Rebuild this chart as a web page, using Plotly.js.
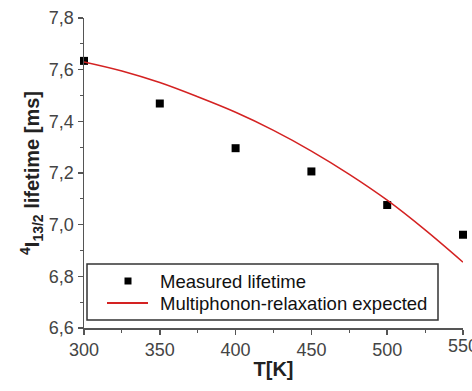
<!DOCTYPE html>
<html>
<head>
<meta charset="utf-8">
<script src="https://cdn.plot.ly/plotly-3.0.1.min.js"></script>
<style>html,body{margin:0;padding:0;background:#fff;}#chart{width:472px;height:391px;}</style>
</head>
<body>
<div id="chart"></div>
<script>
// Measured lifetime
var measuredT = [300, 350, 400, 450, 500, 550];
var measuredLifetime = [7.634, 7.469, 7.296, 7.206, 7.076, 6.961];
// Multiphonon-relaxation expected curve
var expectedT = [300, 325, 350, 375, 400, 425, 450, 475, 500, 525, 550];
var expectedLifetime = [7.63, 7.595, 7.55, 7.495, 7.435, 7.365, 7.285, 7.195, 7.095, 6.98, 6.855];
var xTicks = [300, 350, 400, 450, 500, 550];
var yTicks = [6.6, 6.8, 7.0, 7.2, 7.4, 7.6, 7.8];
var seriesNames = ['Measured lifetime', 'Multiphonon-relaxation expected'];

var font = "Liberation Sans, Arial, sans-serif";
var W = 472, H = 391;
var M = {l: 84, r: 9, t: 18, b: 63};
var pw = W - M.l - M.r, ph = H - M.t - M.b;
function px(x) { return (x - M.l) / pw; }
function py(y) { return (H - M.b - y) / ph; }

var markerColor = '#000', lineColor = '#d42222';

var traces = [
  {
    x: measuredT, y: measuredLifetime, mode: 'markers', type: 'scatter',
    name: seriesNames[0],
    marker: {symbol: 'square', size: 8, color: markerColor},
    cliponaxis: false
  },
  {
    x: expectedT, y: expectedLifetime, mode: 'lines', type: 'scatter',
    name: seriesNames[1],
    line: {color: lineColor, width: 1.5, shape: 'spline'}
  }
];

var axisCommon = {
  showline: true, linecolor: '#555', linewidth: 1.5,
  ticks: 'outside', ticklen: 5, tickwidth: 1.5, tickcolor: '#555',
  showgrid: false, zeroline: false, automargin: false,
  tickfont: {family: font, size: 18, color: '#444'}
};

// manual legend (box, symbols, texts)
var shapes = [
  {type: 'rect', xref: 'paper', yref: 'paper', x0: px(87), x1: px(438), y0: py(320), y1: py(264),
   line: {color: '#333', width: 1.5}, fillcolor: '#fff', layer: 'above'},
  {type: 'rect', xref: 'paper', yref: 'paper', x0: px(124.5), x1: px(131.5), y0: py(284.5), y1: py(277.5),
   line: {width: 0}, fillcolor: markerColor, layer: 'above'},
  {type: 'line', xref: 'paper', yref: 'paper', x0: px(107), x1: px(148), y0: py(303), y1: py(303),
   line: {color: lineColor, width: 2}, layer: 'above'}
];

var annotations = [
  {xref: 'paper', yref: 'paper', x: px(158), y: py(281), xanchor: 'left', yanchor: 'middle',
   text: seriesNames[0], showarrow: false, font: {family: font, size: 18.5, color: '#111'}},
  {xref: 'paper', yref: 'paper', x: px(158), y: py(303), xanchor: 'left', yanchor: 'middle',
   text: seriesNames[1], showarrow: false, font: {family: font, size: 18.5, color: '#111'}},
  // last tick label, partly cut by the page edge as in the original
  {xref: 'x', yref: 'paper', x: xTicks[xTicks.length - 1], y: 0, yanchor: 'top', yshift: -6,
   text: String(xTicks[xTicks.length - 1]), showarrow: false, font: {family: font, size: 18, color: '#444'}}
];

var layout = {
  width: W, height: H,
  margin: M,
  paper_bgcolor: '#fff', plot_bgcolor: '#fff',
  separators: ', ',
  showlegend: false,
  shapes: shapes,
  annotations: annotations,
  xaxis: Object.assign({}, axisCommon, {
    range: [300, 550], tickvals: xTicks,
    minor: {dtick: 25, tick0: 300, ticks: 'outside', ticklen: 3, tickwidth: 1, tickcolor: '#555'},
    title: {text: 'T[K]', font: {family: font, size: 20, color: '#222', weight: 'bold'}, standoff: 3}
  }),
  yaxis: Object.assign({}, axisCommon, {
    range: [6.6, 7.8], tickvals: yTicks, tickformat: '.1f',
    minor: {dtick: 0.1, tick0: 6.6, ticks: 'outside', ticklen: 3, tickwidth: 1, tickcolor: '#555'},
    title: {text: '<sup>4</sup>I<sub>13/2</sub> lifetime [ms]', font: {family: font, size: 20, color: '#222', weight: 'bold'}, standoff: 4}
  })
};

Plotly.newPlot('chart', traces, layout, {displayModeBar: false, staticPlot: true});
</script>
</body>
</html>
